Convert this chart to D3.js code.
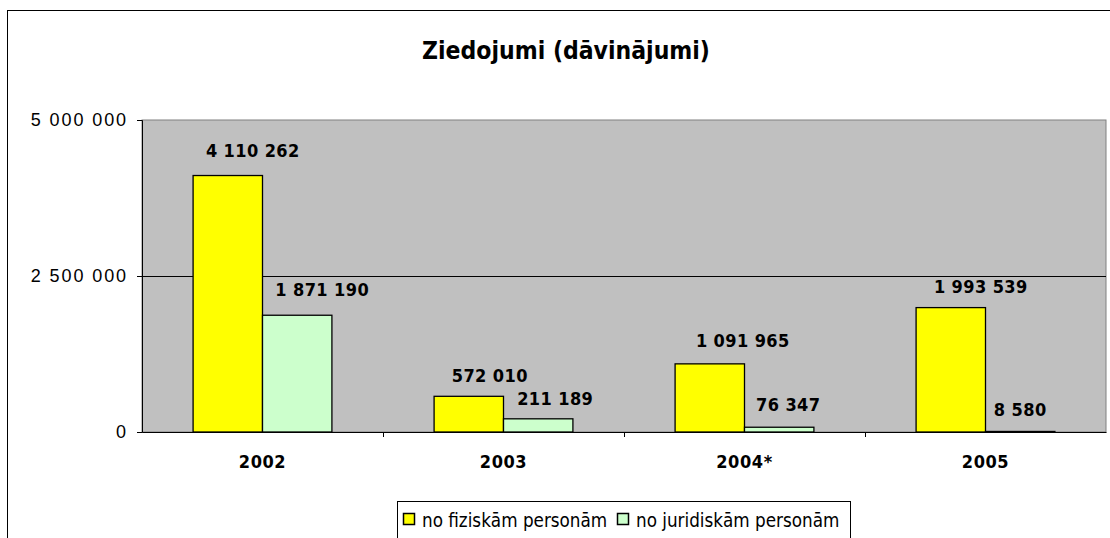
<!DOCTYPE html>
<html>
<head>
<meta charset="utf-8">
<script src="https://cdn.jsdelivr.net/npm/d3@7"></script>
<style>
  body { margin: 0; background: #fff; }
  svg { display: block; }
</style>
</head>
<body>
<div id="chart"></div>
<script>
// chart data
const years = ["2002", "2003", "2004*", "2005"];
const seriesNames = ["no fiziskām personām", "no juridiskām personām"];
const fiziskas = [4110262, 572010, 1091965, 1993539];
const juridiskas = [1871190, 211189, 76347, 8580];
const yTicks = [0, 2500000, 5000000];
const colors = ["#ffff00", "#ccffcc"];

// hand-placed label nudges (dx from bar centre, gap above bar top), per year
const labelDx = [[25, 25], [21, 17], [33, 9], [30, 0]];
const labelGap = [[19, 19], [14, 14], [17, 16], [15, 15]];

const W = 1110, H = 538;
const margin = { top: 120, right: 4, bottom: 106, left: 142 };
const width = W - margin.left - margin.right;
const height = H - margin.top - margin.bottom;

const cond = "'DejaVu Sans Condensed', 'DejaVu Sans', sans-serif";
const fmt = v => d3.format(",")(v).replace(/,/g, " ");

const svg = d3.select("#chart").append("svg")
    .attr("width", W)
    .attr("height", H);

// outer chart border
svg.append("rect")
    .attr("x", 7.5).attr("y", 10.5)
    .attr("width", W + 20).attr("height", H + 20)
    .attr("fill", "none")
    .attr("stroke", "#000");

// title
svg.append("text")
    .attr("x", 566).attr("y", 59)
    .attr("text-anchor", "middle")
    .style("font-family", cond)
    .style("font-weight", "bold")
    .style("font-stretch", "condensed")
    .style("font-size", "24.5px")
    .text("Ziedojumi (dāvinājumi)");

const g = svg.append("g")
    .attr("transform", `translate(${margin.left},${margin.top})`);

// scales
const x = d3.scaleBand()
    .domain(years)
    .range([0, width]);

const xSub = d3.scaleBand()
    .domain(seriesNames)
    .range([x.bandwidth() * 0.212, x.bandwidth() * 0.788]);

const y = d3.scaleLinear()
    .domain([0, 5000000])
    .range([height, 0]);

// plot background
g.append("rect")
    .attr("width", width).attr("height", height)
    .attr("fill", "#c0c0c0")
    .attr("stroke", "#808080");

// gridlines
g.append("g")
    .selectAll("line")
    .data(yTicks.filter(t => t > 0 && t < 5000000))
    .join("line")
    .attr("x1", 0).attr("x2", width)
    .attr("y1", d => Math.round(y(d)) + 0.5)
    .attr("y2", d => Math.round(y(d)) + 0.5)
    .attr("stroke", "#000");

// y axis
const yAxis = g.append("g")
    .call(d3.axisLeft(y).tickValues(yTicks).tickSize(5).tickFormat(fmt));
yAxis.select(".domain").attr("stroke", "#000");
yAxis.selectAll("text")
    .attr("x", -14)
    .style("font-family", "'Liberation Sans', Arial, sans-serif")
    .style("font-size", "18px")
    .style("letter-spacing", "1.9px")
    .attr("fill", "#000");

// x axis
const xAxis = g.append("g")
    .attr("transform", `translate(0,${height})`)
    .call(d3.axisBottom(x).tickSize(0));
xAxis.select(".domain").attr("stroke", "#000");
xAxis.selectAll("text")
    .attr("y", 23)
    .style("font-family", cond)
    .style("font-stretch", "condensed")
    .style("font-weight", "bold")
    .style("font-size", "18px")
    .style("letter-spacing", "0.6px")
    .attr("fill", "#000");

// category separator ticks
g.append("g")
    .selectAll("line")
    .data(years.slice(1))
    .join("line")
    .attr("x1", d => Math.round(x(d)) + 0.5)
    .attr("x2", d => Math.round(x(d)) + 0.5)
    .attr("y1", height).attr("y2", height + 5)
    .attr("stroke", "#000");

// bars
const rows = years.map((yr, i) => ({
    year: yr,
    vals: [0, 1].map(s => ({
        key: seriesNames[s],
        value: s === 0 ? fiziskas[i] : juridiskas[i],
        c: colors[s],
        dx: labelDx[i][s],
        gap: labelGap[i][s]
    }))
}));

const grp = g.append("g")
    .selectAll("g")
    .data(rows)
    .join("g")
    .attr("transform", d => `translate(${x(d.year)},0)`);

grp.selectAll("rect")
    .data(d => d.vals)
    .join("rect")
    .attr("x", d => xSub(d.key))
    .attr("y", d => y(d.value))
    .attr("width", xSub.bandwidth())
    .attr("height", d => height - y(d.value))
    .attr("fill", d => d.c)
    .attr("stroke", "#000")
    .attr("stroke-width", 1.3);

grp.selectAll("text")
    .data(d => d.vals)
    .join("text")
    .attr("x", d => xSub(d.key) + xSub.bandwidth() / 2 + d.dx)
    .attr("y", d => y(d.value) - d.gap)
    .attr("text-anchor", "middle")
    .style("font-family", cond)
    .style("font-stretch", "condensed")
    .style("font-weight", "bold")
    .style("font-size", "18px")
    .style("letter-spacing", "0.4px")
    .text(d => fmt(d.value));

// legend
const legend = svg.append("g").attr("transform", "translate(397,501)");
legend.append("rect")
    .attr("x", 0.5).attr("y", 0.5)
    .attr("width", 453).attr("height", 50)
    .attr("fill", "#fff")
    .attr("stroke", "#000");

const items = [
    { name: seriesNames[0], c: colors[0], x: 6 },
    { name: seriesNames[1], c: colors[1], x: 220 }
];
const li = legend.selectAll("g.item")
    .data(items)
    .join("g")
    .attr("class", "item")
    .attr("transform", d => `translate(${d.x},0)`);
li.append("rect")
    .attr("x", 0.5).attr("y", 12.5)
    .attr("width", 11).attr("height", 11)
    .attr("fill", d => d.c)
    .attr("stroke", "#000")
    .attr("stroke-width", 1.5);
li.append("text")
    .attr("x", 19).attr("y", 26)
    .style("font-family", cond)
    .style("font-stretch", "condensed")
    .style("font-size", "18.7px")
    .text(d => d.name);
</script>
</body>
</html>
